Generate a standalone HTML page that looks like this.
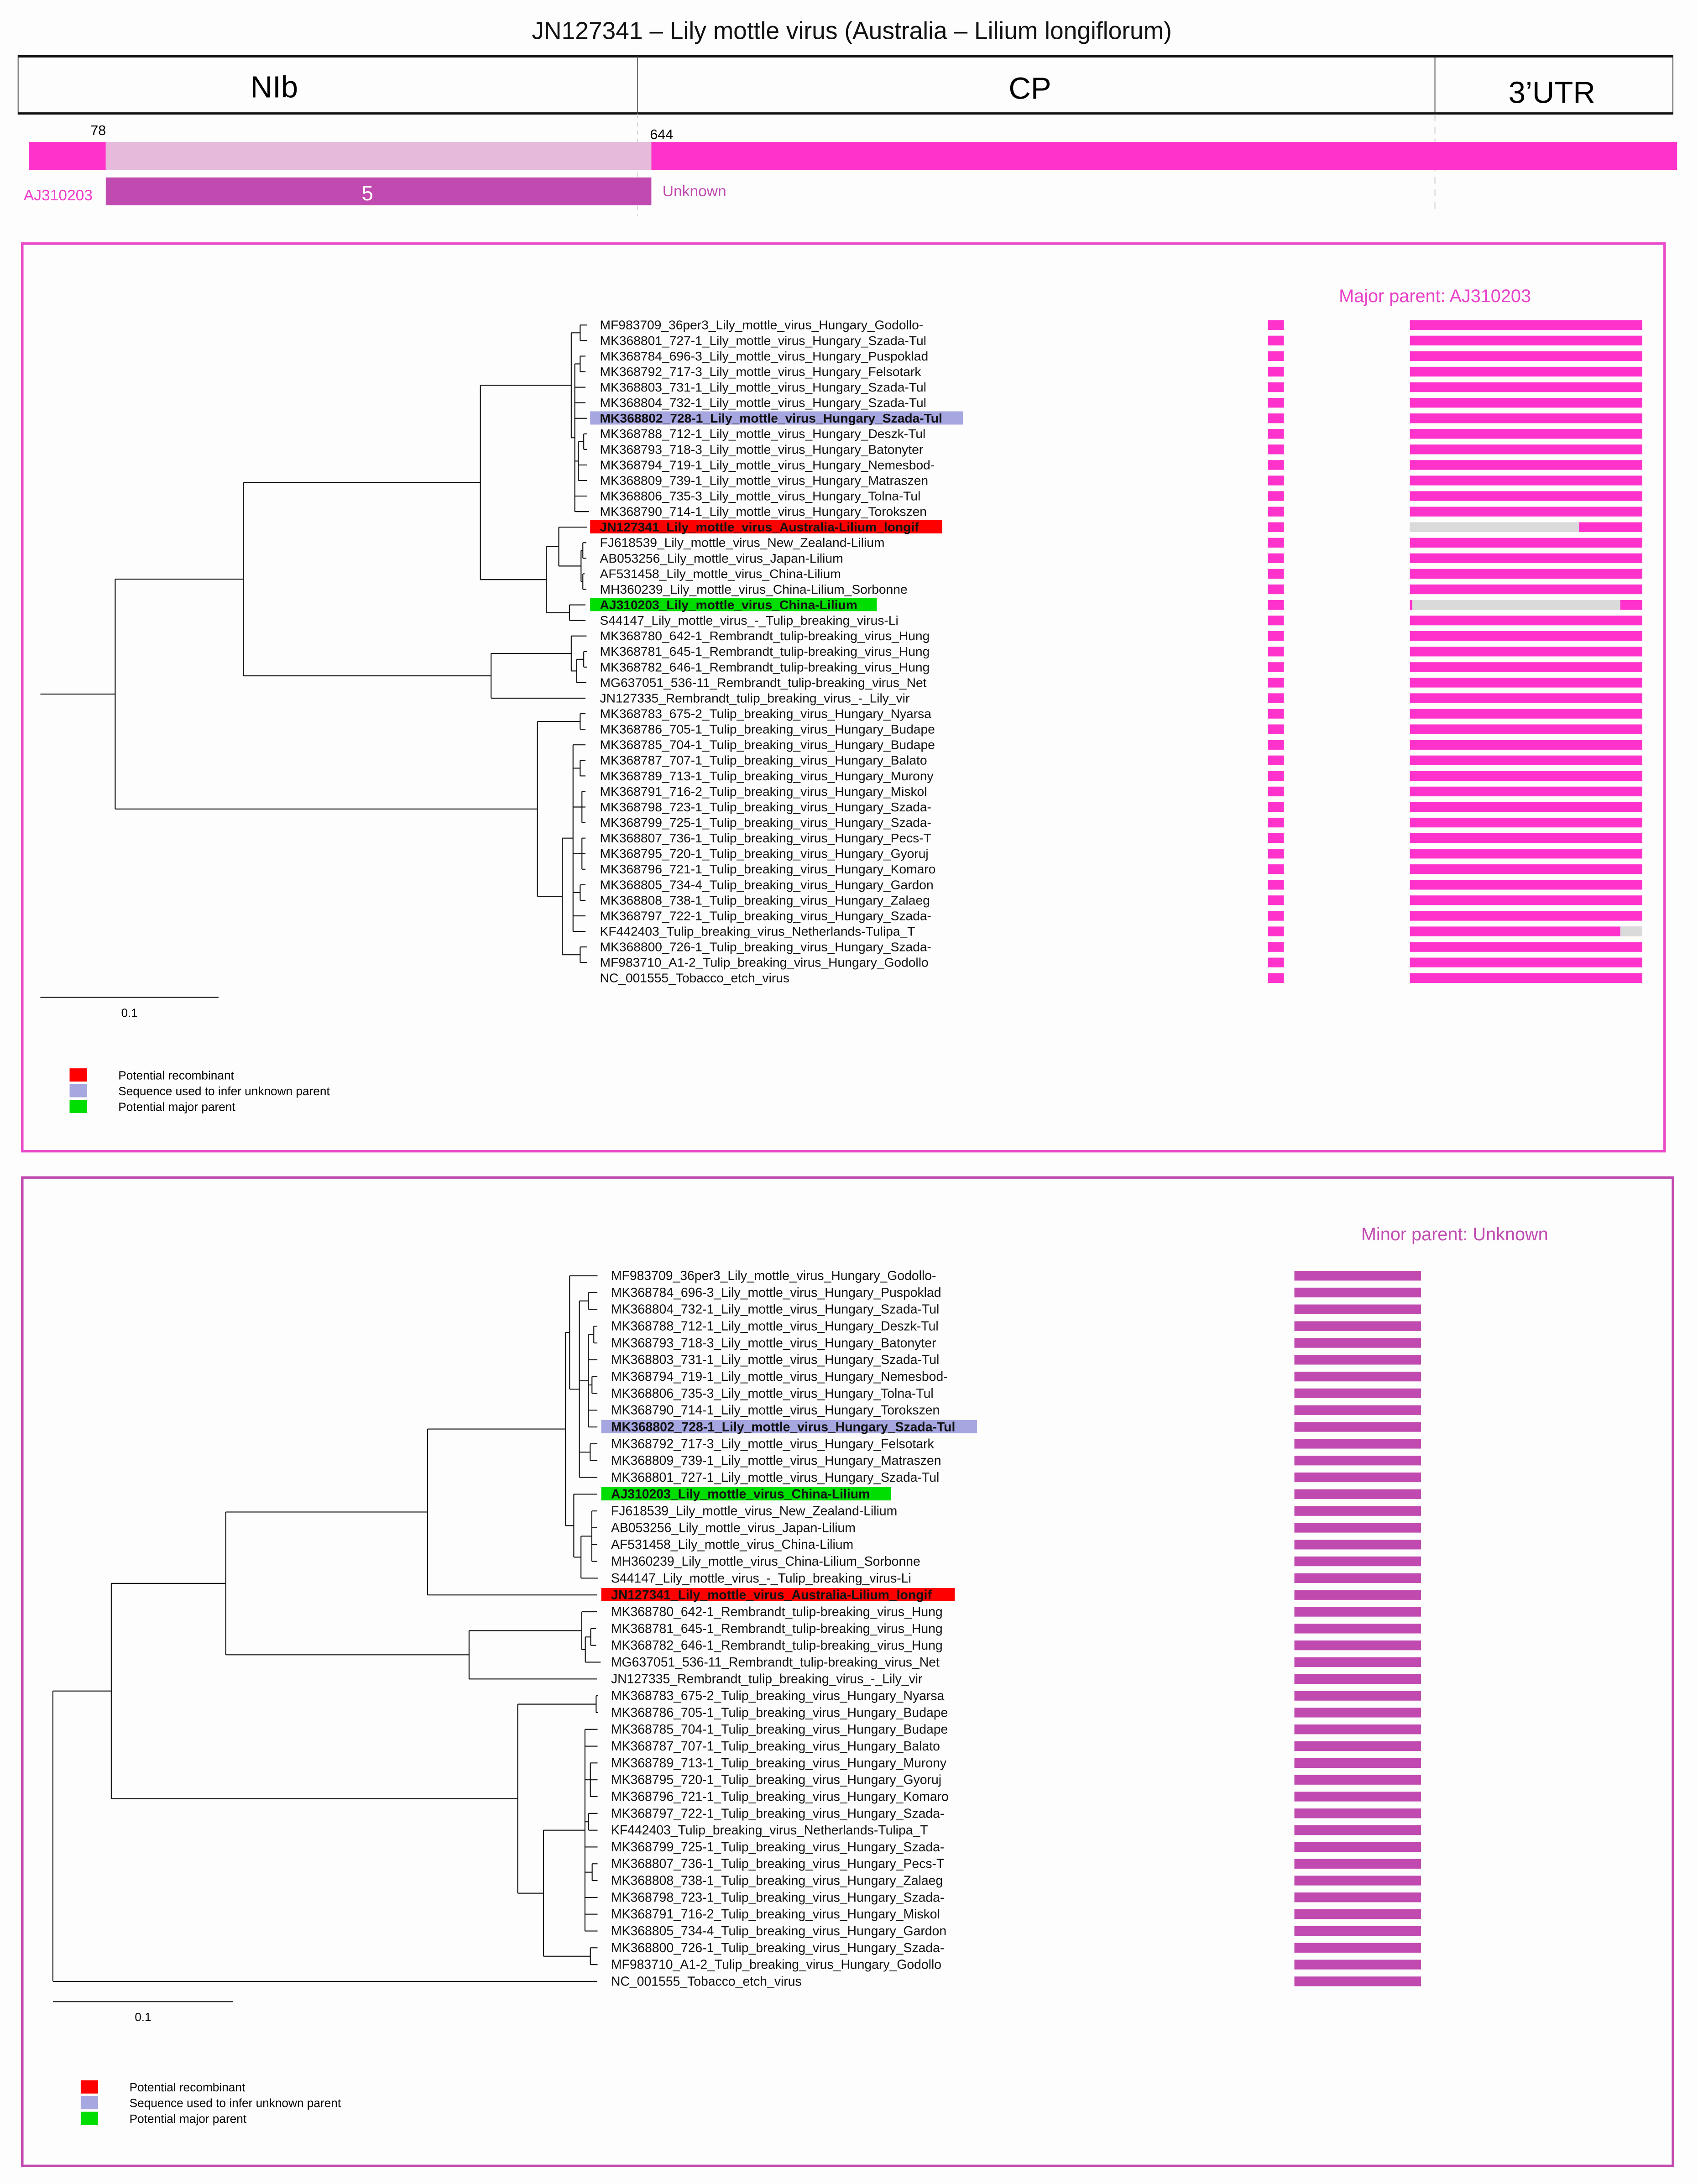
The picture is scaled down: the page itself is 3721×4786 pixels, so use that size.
<!DOCTYPE html>
<html><head><meta charset="utf-8">
<style>
html,body{margin:0;padding:0;background:#fdfdfd;}
svg{display:block;}
text{font-family:"Liberation Sans",Arial,sans-serif;}
</style></head>
<body>
<svg id="fig" xmlns="http://www.w3.org/2000/svg" width="3721" height="4786" viewBox="0 0 1220 1569" preserveAspectRatio="none">
<rect x="0" y="0" width="1220" height="1569" fill="#fdfdfd"/>
<text x="612" y="28" font-size="17.5" text-anchor="middle" fill="#111">JN127341 – Lily mottle virus (Australia – Lilium longiflorum)</text>
<g>
<rect x="13" y="40" width="1189" height="42" fill="none" stroke="#222" stroke-width="0.6"/>
<line x1="13" y1="40.5" x2="1202" y2="40.5" stroke="#111" stroke-width="1.6"/>
<line x1="13" y1="81.5" x2="1202" y2="81.5" stroke="#111" stroke-width="1.6"/>
<line x1="458" y1="40" x2="458" y2="82" stroke="#444" stroke-width="0.5"/>
<line x1="1031" y1="40" x2="1031" y2="82" stroke="#222" stroke-width="0.6"/>
<text x="197" y="70" font-size="22" text-anchor="middle">NIb</text>
<text x="740" y="71" font-size="22" text-anchor="middle">CP</text>
<text x="1115" y="74" font-size="22" text-anchor="middle">3’UTR</text>
</g>
<g>
<line x1="458" y1="82" x2="458" y2="155" stroke="#ccc" stroke-width="0.5" stroke-dasharray="3,3"/>
<line x1="1031" y1="82" x2="1031" y2="152" stroke="#999" stroke-width="0.5" stroke-dasharray="5,4"/>
<text x="65" y="97" font-size="10">78</text>
<text x="467" y="100" font-size="10">644</text>
<rect x="21" y="102" width="55" height="20" fill="#ff33cc"/>
<rect x="76" y="102" width="392" height="20" fill="#e6bada"/>
<rect x="468" y="102" width="737" height="20" fill="#ff33cc"/>
<rect x="76" y="127.5" width="392" height="20" fill="#c04ab0"/>
<text x="264" y="144" font-size="15" text-anchor="middle" fill="#fff">5</text>
<text x="17" y="144" font-size="11" fill="#ee3ccc">AJ310203</text>
<text x="476" y="141" font-size="11" fill="#c04ab0">Unknown</text>
</g>
<rect x="16" y="175" width="1180" height="652" fill="none" stroke="#e84ac8" stroke-width="1.8"/>
<text x="962" y="217" font-size="13" fill="#e840c8">Major parent: AJ310203</text>
<rect x="16" y="846" width="1186" height="710" fill="none" stroke="#c04ab0" stroke-width="1.8"/>
<text x="978" y="891" font-size="13" fill="#c04ab0">Minor parent: Unknown</text>
<g id="p1"></g>
<g id="p2"></g>
</svg>
<script>
// ---- data ----
const namesP1 = ["MF983709_36per3_Lily_mottle_virus_Hungary_Godollo-","MK368801_727-1_Lily_mottle_virus_Hungary_Szada-Tul","MK368784_696-3_Lily_mottle_virus_Hungary_Puspoklad","MK368792_717-3_Lily_mottle_virus_Hungary_Felsotark","MK368803_731-1_Lily_mottle_virus_Hungary_Szada-Tul","MK368804_732-1_Lily_mottle_virus_Hungary_Szada-Tul","MK368802_728-1_Lily_mottle_virus_Hungary_Szada-Tul","MK368788_712-1_Lily_mottle_virus_Hungary_Deszk-Tul","MK368793_718-3_Lily_mottle_virus_Hungary_Batonyter","MK368794_719-1_Lily_mottle_virus_Hungary_Nemesbod-","MK368809_739-1_Lily_mottle_virus_Hungary_Matraszen","MK368806_735-3_Lily_mottle_virus_Hungary_Tolna-Tul","MK368790_714-1_Lily_mottle_virus_Hungary_Torokszen","JN127341_Lily_mottle_virus_Australia-Lilium_longif","FJ618539_Lily_mottle_virus_New_Zealand-Lilium","AB053256_Lily_mottle_virus_Japan-Lilium","AF531458_Lily_mottle_virus_China-Lilium","MH360239_Lily_mottle_virus_China-Lilium_Sorbonne","AJ310203_Lily_mottle_virus_China-Lilium","S44147_Lily_mottle_virus_-_Tulip_breaking_virus-Li","MK368780_642-1_Rembrandt_tulip-breaking_virus_Hung","MK368781_645-1_Rembrandt_tulip-breaking_virus_Hung","MK368782_646-1_Rembrandt_tulip-breaking_virus_Hung","MG637051_536-11_Rembrandt_tulip-breaking_virus_Net","JN127335_Rembrandt_tulip_breaking_virus_-_Lily_vir","MK368783_675-2_Tulip_breaking_virus_Hungary_Nyarsa","MK368786_705-1_Tulip_breaking_virus_Hungary_Budape","MK368785_704-1_Tulip_breaking_virus_Hungary_Budape","MK368787_707-1_Tulip_breaking_virus_Hungary_Balato","MK368789_713-1_Tulip_breaking_virus_Hungary_Murony","MK368791_716-2_Tulip_breaking_virus_Hungary_Miskol","MK368798_723-1_Tulip_breaking_virus_Hungary_Szada-","MK368799_725-1_Tulip_breaking_virus_Hungary_Szada-","MK368807_736-1_Tulip_breaking_virus_Hungary_Pecs-T","MK368795_720-1_Tulip_breaking_virus_Hungary_Gyoruj","MK368796_721-1_Tulip_breaking_virus_Hungary_Komaro","MK368805_734-4_Tulip_breaking_virus_Hungary_Gardon","MK368808_738-1_Tulip_breaking_virus_Hungary_Zalaeg","MK368797_722-1_Tulip_breaking_virus_Hungary_Szada-","KF442403_Tulip_breaking_virus_Netherlands-Tulipa_T","MK368800_726-1_Tulip_breaking_virus_Hungary_Szada-","MF983710_A1-2_Tulip_breaking_virus_Hungary_Godollo","NC_001555_Tobacco_etch_virus"];
const namesP2 = ["MF983709_36per3_Lily_mottle_virus_Hungary_Godollo-","MK368784_696-3_Lily_mottle_virus_Hungary_Puspoklad","MK368804_732-1_Lily_mottle_virus_Hungary_Szada-Tul","MK368788_712-1_Lily_mottle_virus_Hungary_Deszk-Tul","MK368793_718-3_Lily_mottle_virus_Hungary_Batonyter","MK368803_731-1_Lily_mottle_virus_Hungary_Szada-Tul","MK368794_719-1_Lily_mottle_virus_Hungary_Nemesbod-","MK368806_735-3_Lily_mottle_virus_Hungary_Tolna-Tul","MK368790_714-1_Lily_mottle_virus_Hungary_Torokszen","MK368802_728-1_Lily_mottle_virus_Hungary_Szada-Tul","MK368792_717-3_Lily_mottle_virus_Hungary_Felsotark","MK368809_739-1_Lily_mottle_virus_Hungary_Matraszen","MK368801_727-1_Lily_mottle_virus_Hungary_Szada-Tul","AJ310203_Lily_mottle_virus_China-Lilium","FJ618539_Lily_mottle_virus_New_Zealand-Lilium","AB053256_Lily_mottle_virus_Japan-Lilium","AF531458_Lily_mottle_virus_China-Lilium","MH360239_Lily_mottle_virus_China-Lilium_Sorbonne","S44147_Lily_mottle_virus_-_Tulip_breaking_virus-Li","JN127341_Lily_mottle_virus_Australia-Lilium_longif","MK368780_642-1_Rembrandt_tulip-breaking_virus_Hung","MK368781_645-1_Rembrandt_tulip-breaking_virus_Hung","MK368782_646-1_Rembrandt_tulip-breaking_virus_Hung","MG637051_536-11_Rembrandt_tulip-breaking_virus_Net","JN127335_Rembrandt_tulip_breaking_virus_-_Lily_vir","MK368783_675-2_Tulip_breaking_virus_Hungary_Nyarsa","MK368786_705-1_Tulip_breaking_virus_Hungary_Budape","MK368785_704-1_Tulip_breaking_virus_Hungary_Budape","MK368787_707-1_Tulip_breaking_virus_Hungary_Balato","MK368789_713-1_Tulip_breaking_virus_Hungary_Murony","MK368795_720-1_Tulip_breaking_virus_Hungary_Gyoruj","MK368796_721-1_Tulip_breaking_virus_Hungary_Komaro","MK368797_722-1_Tulip_breaking_virus_Hungary_Szada-","KF442403_Tulip_breaking_virus_Netherlands-Tulipa_T","MK368799_725-1_Tulip_breaking_virus_Hungary_Szada-","MK368807_736-1_Tulip_breaking_virus_Hungary_Pecs-T","MK368808_738-1_Tulip_breaking_virus_Hungary_Zalaeg","MK368798_723-1_Tulip_breaking_virus_Hungary_Szada-","MK368791_716-2_Tulip_breaking_virus_Hungary_Miskol","MK368805_734-4_Tulip_breaking_virus_Hungary_Gardon","MK368800_726-1_Tulip_breaking_virus_Hungary_Szada-","MF983710_A1-2_Tulip_breaking_virus_Hungary_Godollo","NC_001555_Tobacco_etch_virus"];
// tree topologies (leaf = row index, branch lengths in substitutions/site)
const treeP1 = "(((((0:0.004,1:0.004):0.005,((2:0.003,3:0.003):0.003,4:0.006,5:0.006,6:0.007,((7:0.002,8:0.002):0.003,9:0.005,10:0.005):0.002,11:0.007,12:0.008):0.002):0.051,((13:0.016,((14:0.002,15:0.002):0.001,(16:0.001,17:0.002):0.001):0.0125):0.007,(18:0.009,19:0.009):0.013):0.037):0.133,((20:0.0086,((21:0.002,22:0.002):0.004,23:0.0055):0.003):0.045,24:0.053):0.139):0.072,((25:0.003,26:0.003):0.024,((27:0.007,(28:0.003,29:0.003):0.004,(30:0.002,31:0.002,32:0.002):0.005,(33:0.002,34:0.002,35:0.002):0.005,(36:0.003,37:0.003):0.004,38:0.007,39:0.007):0.006,(40:0.004,41:0.004):0.01):0.014):0.237):0.042,42:0.306);";
const treeP2 = "((((((0:0.0155,((1:0.005,2:0.005):0.005,((3:0.002,4:0.002):0.003,5:0.005,(6:0.003,7:0.003):0.002,8:0.005,9:0.005):0.005,(10:0.004,11:0.004):0.006,12:0.01):0.0054):0.0023,(13:0.013,((14:0.003,15:0.003,16:0.003,17:0.003):0.006,18:0.0093):0.004):0.0046):0.0765,19:0.094):0.112,((20:0.0085,((21:0.003,22:0.003):0.003,23:0.0085):0.002):0.0625,24:0.071):0.135):0.0635,((25:0.001,26:0.001):0.0435,((27:0.007,28:0.007,(29:0.004,30:0.004,31:0.004):0.003,(32:0.005,33:0.005):0.002,34:0.007,(35:0.003,36:0.003):0.004,37:0.007,38:0.007,39:0.007):0.023,(40:0.004,41:0.004):0.026):0.0143):0.2255):0.0324,42:0.302);";
const rolesP1 = {6:"unknown-inference",13:"recombinant",18:"major-parent"};
const rolesP2 = {9:"unknown-inference",13:"major-parent",19:"recombinant"};
const greyP1 = {13:[0,0.727],18:[0.01,0.905],39:[0.905,1]};
const scaleLabel = "0.1";
const scaleValue = 0.1;
const legendLabels = ["Potential recombinant","Sequence used to infer unknown parent","Potential major parent"];
</script>
<script>
const NS="http://www.w3.org/2000/svg";
const roleColor={"recombinant":"#ff0000","unknown-inference":"#a6a6e0","major-parent":"#00dd00"};
function mk(parent,tag,attrs){const e=document.createElementNS(NS,tag);for(const k in attrs)e.setAttribute(k,attrs[k]);parent.appendChild(e);return e;}
function parse(s){let i=0;
 function node(){let n={c:[],len:0};
  if(s[i]==='('){i++;n.c.push(node());while(s[i]===','){i++;n.c.push(node());}i++;}
  else{let t='';while(/[0-9]/.test(s[i]))t+=s[i++];n.leaf=+t;}
  if(s[i]===':'){i++;let t='';while(/[0-9.]/.test(s[i]))t+=s[i++];n.len=+t;}
  return n;}
 return node();}
function drawPanel(g,cfg){
 const tree=parse(cfg.tree);
 const X=d=>cfg.x0+d*cfg.pxPerUnit;
 const Y=r=>cfg.y0+r*cfg.dy;
 function lay(n,depth){n.d=depth+n.len;
  if(n.c.length){n.c.forEach(ch=>lay(ch,n.d));n.y=(n.c[0].y+n.c[n.c.length-1].y)/2;}
  else n.y=Y(n.leaf);}
 lay(tree,0);
 const tg=mk(g,'g',{});
 
 
 function dr(n,pd){
  const h=mk(tg,'line',{x1:X(pd),y1:n.y,x2:X(n.d),y2:n.y,stroke:'#111','stroke-width':0.7});
  
  
  if(n.c.length){
   const v=mk(tg,'line',{x1:X(n.d),y1:n.c[0].y,x2:X(n.d),y2:n.c[n.c.length-1].y,stroke:'#111','stroke-width':0.7});
   
   
   n.c.forEach(ch=>dr(ch,n.d));}
 }
 dr(tree,0);
 cfg.names.forEach((nm,r)=>{
  const y=Y(r); const role=cfg.roles[r];
  if(role){const hl=mk(g,'rect',{x:cfg.labelX-7,y:y-5,width:cfg.hlW[role],height:9.5,fill:roleColor[role]});
   
   }
  const t=mk(g,'text',{x:cfg.labelX,y:y+3.1,'font-size':cfg.fs,fill:'#111','font-weight':role?'bold':'normal'});
  t.textContent=nm;
  
  
  cfg.bars(g,r,y);
 });
 const sb=mk(g,'line',{x1:cfg.x0,y1:cfg.sbY,x2:X(scaleValue),y2:cfg.sbY,stroke:'#111','stroke-width':0.7});
 
 
 const st=mk(g,'text',{x:(cfg.x0+X(scaleValue))/2,y:cfg.sbY+14,'font-size':8.5,'text-anchor':'middle'});
 st.textContent=scaleLabel;
 
 
 ['recombinant','unknown-inference','major-parent'].forEach((rk,i)=>{
  const ly=cfg.legY+i*11.3;
  const sq=mk(g,'rect',{x:cfg.legX,y:ly,width:12.5,height:9.5,fill:roleColor[rk]});
  
  
  const lt=mk(g,'text',{x:cfg.legX+35,y:ly+8,'font-size':8.6});
  lt.textContent=legendLabels[i];
  
  
 });
}
drawPanel(document.getElementById('p1'),{id:'major-parent',tree:treeP1,names:namesP1,roles:rolesP1,x0:29,pxPerUnit:1280,y0:233.5,dy:11.17,labelX:431,fs:9.25,
 hlW:{"unknown-inference":268,"recombinant":253,"major-parent":206},sbY:716.5,legX:50,legY:767.5,
 bars:(g,r,y)=>{
  const s=mk(g,'rect',{x:911,y:y-3.5,width:11.5,height:7,fill:'#ff33cc'});
  
  
  const bx=1013,bw=167;
  const b=mk(g,'rect',{x:bx,y:y-3.5,width:bw,height:7,fill:'#ff33cc'});
  
  
  if(greyP1[r]){const gr=greyP1[r];
   const gb=mk(g,'rect',{x:bx+gr[0]*bw,y:y-3.5,width:(gr[1]-gr[0])*bw,height:7,fill:'#dadada'});
   
   }
 }});
drawPanel(document.getElementById('p2'),{id:'minor-parent',tree:treeP2,names:namesP2,roles:rolesP2,x0:38,pxPerUnit:1295,y0:916.5,dy:12.07,labelX:439,fs:9.3,
 hlW:{"unknown-inference":270,"recombinant":254,"major-parent":208},sbY:1438,legX:58,legY:1494.5,
 bars:(g,r,y)=>{
  const b=mk(g,'rect',{x:930,y:y-3.5,width:91,height:7,fill:'#c04ab0'});
  
  
 }});
</script>
</body></html>
